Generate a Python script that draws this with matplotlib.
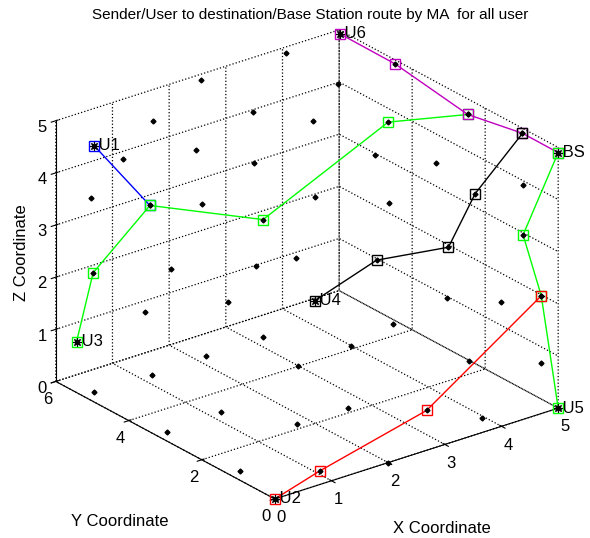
import matplotlib
matplotlib.use("Agg")
import matplotlib.pyplot as plt
import numpy as np

plt.rcParams['font.family'] = ['Liberation Sans Narrow', 'Liberation Sans', 'DejaVu Sans']
plt.rcParams['grid.linestyle'] = ':'
plt.rcParams['grid.color'] = 'k'
plt.rcParams['grid.linewidth'] = 0.9

# scattered sensor nodes (x, y, z)
node_x = [4.0, 2.5, 4.4, 1.4, 2.9, 3.7, 0.6, 1.7, 2.4, 3.9, 4.2, 4.7, 0.3, 1.3, 2.9, 3.5,
          2.3, 1.0, 1.8, 1.5, 0.8, 1.6, 1.1, 0.6, 1.7, 0.1, 0.6, 1.1, 0.1, 0.1, 4.0, 4.5,
          3.5, 2.7, 4.2, 4.85, 2.0, 3.8, 2.0]
node_y = [5.9, 5.9, 5.1, 5.5, 5.1, 4.7, 5.1, 4.8, 4.3, 3.3, 2.1, 0.5, 5.5, 4.0, 3.4, 2.3,
          3.0, 4.4, 3.3, 3.6, 4.8, 2.8, 3.6, 4.3, 2.0, 5.1, 2.4, 1.1, 3.1, 1.1, 1.5, 0.8,
          2.2, 2.1, 1.2, 0.23, 1.1, 0.23, 0.0]
node_z = [4.95, 4.94, 4.5, 4.7, 4.5, 4.2, 4.4, 4.3, 4.0, 4.0, 4.2, 4.2, 3.6, 3.7, 3.5, 3.6,
          2.7, 2.4, 2.6, 1.9, 1.5, 1.5, 1.0, 0.55, 1.2, 0.1, 0.56, 0.64, 0.09, 0.09, 1.9, 1.9,
          1.3, 1.2, 0.73, 0.83, 0.63, 0.14, 0.0]

# users and base station
users = ['U1', 'U2', 'U3', 'U4', 'U5', 'U6', 'BS']
user_x = [0.34, 0.0, 0.18, 2.63, 5.0, 4.96, 5.0]
user_y = [5.48, 0.0, 5.71, 2.98, 0.0, 5.92, 0.0]
user_z = [4.6, 0.0, 0.81, 1.77, 0.0, 4.97, 4.9]

# routes found by the mobile agent
routes = [
    ('b', [0.34, 0.83], [5.48, 4.71], [4.6, 3.57]),
    ('#00ff00', [0.18, 0.33, 0.83, 1.95, 4.32, 4.84], [5.71, 5.49, 4.71, 3.35, 3.6, 2.23],
     [0.81, 2.16, 3.57, 3.42, 4.37, 4.85]),
    ('m', [4.96, 4.96, 4.84, 4.95, 5.0], [5.92, 4.40, 2.23, 0.9, 0.0], [4.97, 4.96, 4.85, 4.95, 4.9]),
    ('k', [2.63, 3.4, 4.03, 4.27, 4.95], [2.98, 2.49, 1.5, 1.14, 0.9], [1.77, 2.46, 2.86, 3.94, 4.95]),
    ('#00ff00', [5.0, 4.69, 4.85, 5.0], [0.0, 0.48, 0.23, 0.0], [4.9, 3.25, 2.12, 0.0]),
    ('r', [0.0, 0.94, 3.09, 4.85], [0.0, 0.22, 0.64, 0.23], [0.0, 0.13, 0.38, 2.12]),
]

fig = plt.figure(figsize=(5.9, 5.38), dpi=100)
ax = fig.add_axes([0.008, -0.005, 1.0, 1.0], projection='3d', proj_type='ortho')
ax.view_init(elev=24.5, azim=-127.7)
ax.set_box_aspect((1, 1, 0.8), zoom=1.05)

for col, xs, ys, zs in routes:
    ax.plot(xs, ys, zs, color=col, lw=1.0, marker='s', ms=7, mfc='none', mec=col, mew=1.0)
    ax.plot(xs, ys, zs, ls='none', marker='D', ms=2.5, color='k')

ax.plot(node_x, node_y, node_z, ls='none', marker='D', ms=2.5, color='k')
ax.plot(user_x, user_y, user_z, ls='none', marker=(8, 2, 0), ms=6, color='k', mew=0.8)
for name, x, y, z in zip(users, user_x, user_y, user_z):
    ax.text(x, y, z, ' ' + name, fontsize=12, va='center', ha='left')

ax.set_xlim(0, 5)
ax.set_ylim(0, 6)
ax.set_zlim(0, 5)
ax.set_xticks([0, 1, 2, 3, 4, 5])
ax.set_yticks([0, 2, 4, 6])
ax.set_zticks([0, 1, 2, 3, 4, 5])
ax.tick_params(labelsize=12)
ax.xaxis.set_tick_params(pad=-2)
ax.yaxis.set_tick_params(pad=-2)
ax.zaxis.set_tick_params(pad=-2.5)

for axis in (ax.xaxis, ax.yaxis, ax.zaxis):
    axis.set_pane_color((1, 1, 1, 0))
    axis.pane.set_edgecolor((1, 1, 1, 0))
    axis.line.set_color('k')
    axis.label.set_visible(False)
    axis.offsetText.set_visible(False)

fig.text(0.525, 0.972, 'Sender/User to destination/Base Station route by MA  for all user',
         ha='center', va='center', fontsize=11)
fig.text(0.749, 0.018, 'X Coordinate', ha='center', va='center', fontsize=12)
fig.text(0.203, 0.031, 'Y Coordinate', ha='center', va='center', fontsize=12)
fig.text(0.037, 0.53, 'Z Coordinate', ha='center', va='center', rotation=90, fontsize=12)

fig.savefig('out.png', dpi=100)
